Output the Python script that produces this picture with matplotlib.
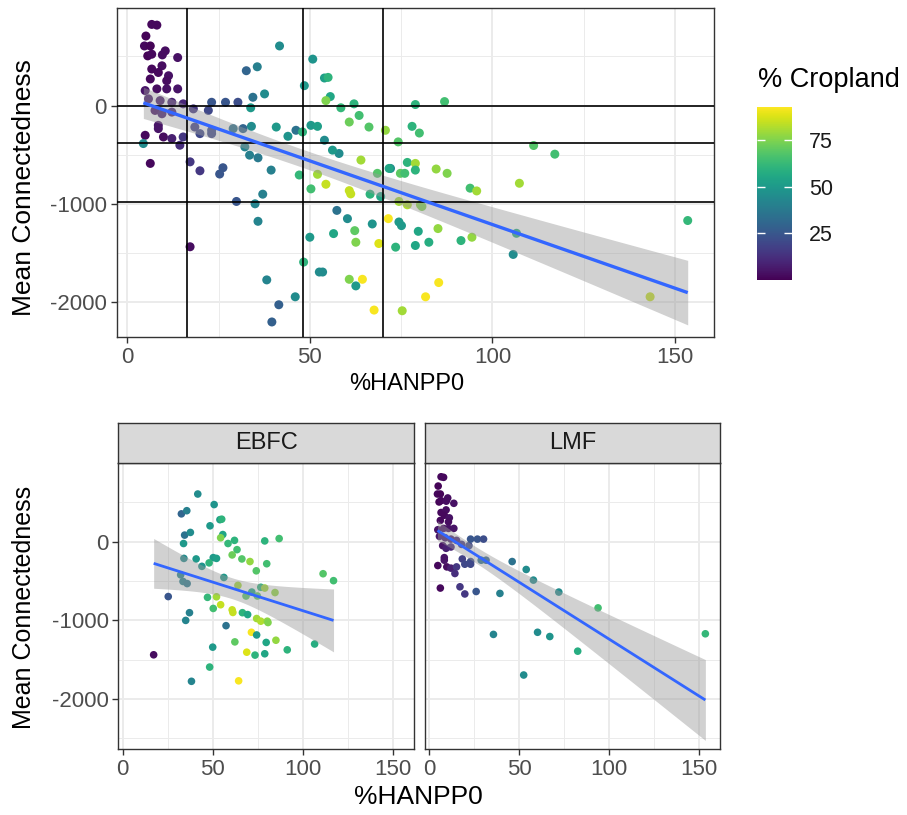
import numpy as np
import matplotlib
matplotlib.use("Agg")
import matplotlib.pyplot as plt
from matplotlib.colors import Normalize
from matplotlib.cm import ScalarMappable

plt.rcParams['font.family'] = ['Liberation Sans', 'DejaVu Sans']
plt.rcParams['axes.unicode_minus'] = False

# ---------------- data ----------------
lmf_hanpp = [6.7, 8.1, 5.1, 4.7, 6.3, 5.6, 6.7, 10.4, 9.6, 13.8, 6.7, 9.5, 8.5, 6.3, 11.3,
             10.8, 4.9, 8.1, 10.8, 13.8, 5.8, 9.0, 12.2, 15.3, 7.6, 9.5, 12.2, 18.1, 22.2, 23.1,
             26.9, 30.3, 8.5, 8.5, 9.9, 4.9, 12.2, 15.3, 14.4, 18.5, 19.9, 23.1, 23.1, 6.3, 17.2,
             19.9, 26.2, 29.0, 31.7, 46.2, 54.0, 58.0, 72.1, 93.9, 39.4, 35.8, 60.3, 67.1, 82.6, 52.6,
             153.5]
lmf_conn = [825, 818, 707, 606, 606, 505, 522, 556, 515, 488, 371, 404, 336, 270, 303,
            252, 152, 169, 169, 169, 68, 50, 33, 17, -50, -84, -67, -34, -50, 33,
            33, 33, -202, -235, -320, -303, -336, -320, -404, -219, -286, -252, -286, -589, -573,
            -664, -633, -235, -235, -252, -353, -488, -640, -841, -657, -1178, -1151, -1205, -1391, -1694,
            -1170]
lmf_crop = [2, 2, 1, 2, 1, 1, 2, 3, 3, 4, 2, 3, 2, 2, 4,
            3, 5, 3, 4, 5, 6, 6, 8, 10, 5, 8, 10, 15, 20, 25,
            25, 22, 5, 5, 3, 2, 8, 15, 12, 18, 20, 22, 20, 2, 15,
            15, 25, 35, 30, 35, 45, 45, 45, 65, 40, 42, 45, 48, 58, 45,
            62]

ebfc_hanpp = [41.7, 50.8, 32.6, 35.6, 48.5, 54.0, 55.0, 34.4, 37.6, 55.6, 54.4, 33.8, 58.5, 62.1, 78.9,
              86.9, 63.5, 60.8, 34.0, 50.3, 52.1, 40.8, 44.0, 48.0, 66.2, 70.7, 80.0, 74.2, 32.2, 33.5,
              35.8, 56.2, 111.3, 117.1, 76.7, 78.9, 64.0, 84.6, 47.1, 52.1, 54.4, 50.3, 68.5, 71.7, 74.8,
              66.5, 69.4, 60.8, 61.2, 25.3, 37.1, 35.0, 57.4, 74.4, 76.7, 80.3, 80.7, 71.5, 74.4, 85.1,
              62.3, 50.0, 68.9, 73.5, 78.9, 91.4, 106.6, 17.2, 48.3, 38.2, 64.4, 79.7]
ebfc_conn = [606, 472, 354, 394, 202, 280, 286, 84, 118, 91, 50, -23, -23, 17, 10,
             40, -101, -168, -212, -202, -212, -219, -313, -269, -219, -252, -280, -370, -421, -505,
             -532, -454, -407, -495, -579, -589, -555, -646, -707, -700, -801, -848, -690, -640, -690,
             -902, -926, -866, -899, -697, -902, -1000, -1067, -976, -1010, -1010, -1027, -1151, -1185, -1252,
             -1273, -1340, -1404, -1441, -1424, -1374, -1300, -1437, -1593, -1774, -1768, -1280]
ebfc_crop = [45, 48, 30, 40, 50, 52, 60, 35, 45, 55, 75, 50, 62, 60, 60,
             65, 65, 72, 45, 50, 52, 50, 48, 60, 68, 78, 65, 68, 42, 40,
             38, 50, 68, 65, 60, 80, 80, 78, 62, 80, 85, 65, 68, 55, 70,
             60, 55, 85, 85, 25, 40, 42, 35, 80, 82, 78, 75, 92, 50, 78,
             70, 50, 88, 60, 55, 60, 58, 3, 60, 42, 92, 55]

other_hanpp = [4.4, 29.9, 46.0, 41.5, 39.6, 53.5, 60.8, 62.6, 67.6, 75.3, 81.7, 85.3,
               143.2, 105.7, 95.7, 107.4, 94.4, 87.6, 78.9, 76.0, 62.6, 56.5, 75.1, 78.0]
other_conn = [-387, -976, -1946, -2027, -2202, -1694, -1768, -1835, -2081, -2088, -1946, -1801,
              -1946, -1515, -869, -791, -1340, -690, -657, -690, -1391, -1303, -1222, -212]
other_crop = [45, 25, 45, 28, 28, 45, 75, 50, 92, 80, 92, 92,
              85, 45, 80, 80, 78, 75, 60, 65, 75, 55, 50, 60]

vline_x = [16.3, 48.0, 70.0]
hline_y = [0, -385, -979]
facet_names = ["EBFC", "LMF"]
cbar_ticks = [25, 50, 75]

# ---------------- helpers ----------------
W, H = 907, 815
fig = plt.figure(figsize=(W / 100, H / 100), dpi=100)


def ax_px(l, t, r, b):
    return fig.add_axes([l / W, 1 - b / H, (r - l) / W, (b - t) / H])


def ftext(x, y, s, **kw):
    fig.text(x / W, 1 - y / H, s, **kw)


def tq(dof):
    z = 1.959964
    g1 = (z ** 3 + z) / 4
    g2 = (5 * z ** 5 + 16 * z ** 3 + 3 * z) / 96
    return z + g1 / dof + g2 / dof ** 2


def smooth(ax, x, y, lw):
    x = np.asarray(x, float)
    y = np.asarray(y, float)
    b1, b0 = np.polyfit(x, y, 1)
    xs = np.linspace(x.min(), x.max(), 100)
    yh = b0 + b1 * xs
    res = y - (b0 + b1 * x)
    dof = len(x) - 2
    s = np.sqrt(np.sum(res ** 2) / dof)
    sxx = np.sum((x - x.mean()) ** 2)
    se = s * np.sqrt(1 / len(x) + (xs - x.mean()) ** 2 / sxx)
    t = tq(dof)
    ax.fill_between(xs, yh - t * se, yh + t * se, color='#999999', alpha=0.45,
                    linewidth=0, zorder=3)
    ax.plot(xs, yh, color='#3366FF', lw=lw, zorder=5, solid_capstyle='butt')


def style(ax, xlim, ylim, yminor, labelsize):
    ax.set_xlim(*xlim)
    ax.set_ylim(*ylim)
    ax.set_xticks([0, 50, 100, 150])
    ax.set_xticks([25, 75, 125], minor=True)
    ax.set_yticks([-2000, -1000, 0])
    ax.set_yticks(yminor, minor=True)
    ax.grid(True, which='major', color='#EBEBEB', lw=1.4, zorder=0)
    ax.grid(True, which='minor', color='#EBEBEB', lw=0.7, zorder=0)
    ax.set_axisbelow(True)
    ax.tick_params(which='major', length=4, width=1, color='#333333',
                   labelsize=labelsize, labelcolor='#4D4D4D', pad=3)
    ax.tick_params(which='minor', length=0)
    for sp in ax.spines.values():
        sp.set_color('#333333')
        sp.set_linewidth(1.0)


all_hanpp = lmf_hanpp + ebfc_hanpp + other_hanpp
all_conn = lmf_conn + ebfc_conn + other_conn
all_crop = lmf_crop + ebfc_crop + other_crop
norm = Normalize(vmin=0, vmax=93)
cmap = plt.get_cmap('viridis')

# ---------------- top panel ----------------
ax = ax_px(116.7, 8.3, 714, 337)
style(ax, (-2.9, 160.7), (-2355, 989), [-1500, -500, 500], 16)
ax.scatter(all_hanpp, all_conn, c=all_crop, cmap=cmap, norm=norm, s=42,
           linewidths=0, zorder=2)
for v in vline_x:
    ax.axvline(v, color='black', lw=1.2, zorder=4)
for h in hline_y:
    ax.axhline(h, color='black', lw=1.2, zorder=4)
smooth(ax, all_hanpp, all_conn, 2.4)
ftext(407, 384, "%HANPP0", ha='center', va='center', fontsize=17)
ftext(24, 188, "Mean Connectedness", ha='center', va='center', rotation=90, fontsize=19)

# ---------------- facets ----------------
groups = {"EBFC": (ebfc_hanpp, ebfc_conn, ebfc_crop),
          "LMF": (lmf_hanpp, lmf_conn, lmf_crop)}
lefts = {"EBFC": (118.3, 414.0), "LMF": (424.6, 720.3)}
for name in facet_names:
    l, r = lefts[name]
    fx = ax_px(l, 462.7, r, 749.3)
    style(fx, (-2.44, 161.8), (-2638, 1004), [-2500, -1500, -500, 500], 16)
    hx, cx, crx = groups[name]
    fx.scatter(hx, cx, c=crx, cmap=cmap, norm=norm, s=30, linewidths=0, zorder=2)
    smooth(fx, hx, cx, 2.0)
    if name != "EBFC":
        fx.tick_params(axis='y', labelleft=False, length=0)
    st = ax_px(l, 422.7, r, 462.7)
    st.set_facecolor('#D9D9D9')
    st.set_xticks([])
    st.set_yticks([])
    for sp in st.spines.values():
        sp.set_color('#333333')
        sp.set_linewidth(1.0)
    st.text(0.5, 0.5, name, transform=st.transAxes, ha='center', va='center',
            fontsize=17, color='#1A1A1A')

ftext(418, 797, "%HANPP0", ha='center', va='center', fontsize=19)
ftext(24, 607, "Mean Connectedness", ha='center', va='center', rotation=90, fontsize=18)

# ---------------- colorbar ----------------
cax = ax_px(757.3, 106.7, 792.3, 280)
sm = ScalarMappable(norm=norm, cmap=cmap)
cb = fig.colorbar(sm, cax=cax, ticks=cbar_ticks)
cb.outline.set_visible(False)
cax.yaxis.set_ticks_position('both')
cax.tick_params(direction='in', length=6, width=1, color='white',
                labelsize=15.5, labelcolor='#1A1A1A', pad=12, labelright=True, labelleft=False)
ftext(758, 80, "% Cropland", ha='left', va='center', fontsize=19.5)

fig.savefig("out.png", dpi=100)
